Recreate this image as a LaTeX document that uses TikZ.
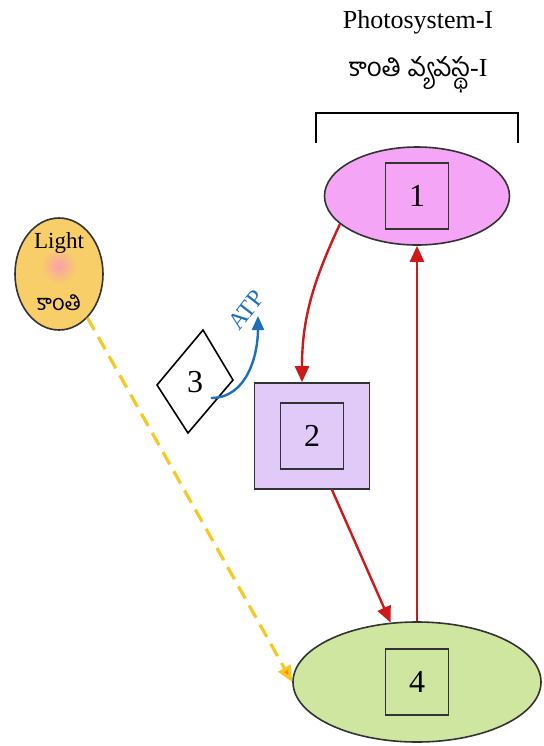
\documentclass[tikz,border=0pt]{standalone}
\usepackage{fontspec}
\setmainfont{Liberation Serif}
\newfontfamily\telugu[Script=Telugu]{Hind Guntur}
\definecolor{violeta}{RGB}{245,165,245}
\definecolor{lila}{RGB}{226,202,248}
\definecolor{verde}{RGB}{206,230,160}
\definecolor{oro}{RGB}{248,206,105}
\definecolor{rosa}{RGB}{250,160,170}
\definecolor{rojo}{RGB}{205,25,25}
\definecolor{azul}{RGB}{30,110,190}
\definecolor{amarillo}{RGB}{245,200,35}
\usetikzlibrary{positioning,arrows.meta,shapes.geometric,calc}

\begin{document}
\begin{tikzpicture}[
    x=0.5pt, y=-0.5pt,
    font=\fontsize{13}{15}\selectfont,
    ps/.style={ellipse, draw=black!80, thick, inner sep=0pt},
    core/.style={rectangle, draw=black!80, thick, inner sep=0pt,
      minimum width=31.5pt, minimum height=33pt,
      font=\fontsize{16}{18}\selectfont},
    flujo/.style={draw=rojo, line width=1.2pt, -{Triangle[length=8pt,width=7pt]}},
    atp/.style={draw=azul, line width=1.2pt, -{Triangle[length=7pt,width=6pt]}},
    luz/.style={draw=amarillo, line width=1.6pt,
      dash pattern=on 7pt off 4pt,
      -{Triangle[length=8pt,width=7pt,fill=orange!90!yellow]}},
    >=Stealth
  ]
    \useasboundingbox (0,0) rectangle (544,746);

    % title and bracket
    \node (tit) at (418,22) {Photosystem-I};
    \node (tittel) at (418,75) {{\telugu కాంతి వ్యవస్థ}-I};
    \draw[thick] (316,143) -- (316,113) -- (518,113) -- (518,143);

    % photosystem parts
    \node[ps, fill=violeta, minimum width=92.5pt, minimum height=49pt]
      (ps1) at (417,196) {};
    \node[core] (c1) at (ps1) {1};
    \node[rectangle, draw=black!80, thick, fill=lila,
      minimum width=57.5pt, minimum height=53pt] (pc2) at (312,436) {};
    \node[core] (c2) at (pc2) {2};
    \node[ps, fill=verde, minimum width=124pt, minimum height=60pt]
      (ps4) at (417,682) {};
    \node[core] (c4) at (ps4) {4};

    % light
    \node[ps, fill=oro, minimum width=44pt, minimum height=56pt]
      (luz) at (59,274) {};
    \shade[inner color=rosa, outer color=oro] (59,266) circle (9pt);
    \node[font=\fontsize{11.5}{13}\selectfont] (luzen) at (59,243) {Light};
    \node[font=\fontsize{11}{13}\selectfont] (luzte) at (59,303) {\telugu కాంతి};

    % 3 and ATP
    \draw[thick, fill=white] (157,385) -- (203,330) -- (233,380) -- (188,433) -- cycle;
    \node[font=\fontsize{16}{18}\selectfont] (n3) at (195,382) {3};
    \coordinate (atpend) at (258,316);
    \draw[atp] ([xshift=8pt,yshift=-8pt]n3.center) to[out=0,in=-90] (atpend);
    \node[text=azul, rotate=52, font=\fontsize{12}{14}\selectfont] (atplab) at (246,310) {ATP};

    % flow
    \draw[flujo] (ps1.200) to[out=245,in=90] ([xshift=-5pt]pc2.north);
    \draw[flujo] ([xshift=10pt]pc2.south) -- (ps4.114);
    \draw[flujo] (ps4.north) -- (ps1.south);
    \draw[luz] (luz.-57) -- (ps4.west);
  \end{tikzpicture}
\end{document}
